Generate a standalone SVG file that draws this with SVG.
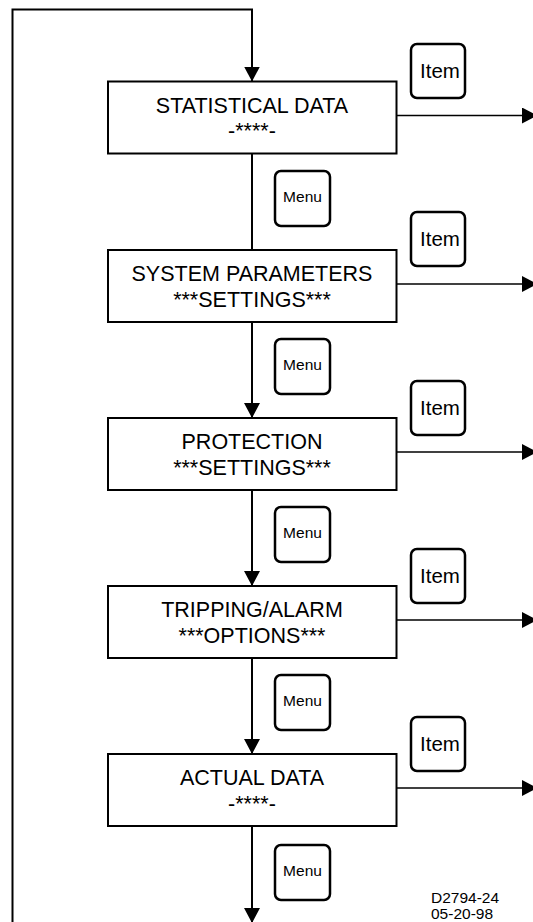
<svg xmlns="http://www.w3.org/2000/svg" width="533" height="922" viewBox="0 0 533 922">
<style>
.box{fill:#fff;stroke:#000;stroke-width:2}
.key{fill:#fff;stroke:#000;stroke-width:2.5}
.t{font-family:"Liberation Sans",Arial,sans-serif;fill:#000;text-anchor:middle}
.main{font-size:21.5px}
.menu{font-size:15.5px}
.item{font-size:20.5px}
.note{font-family:"Liberation Sans",Arial,sans-serif;font-size:15.5px;fill:#000}
.ln{fill:none;stroke:#000;stroke-width:2}
.out{fill:none;stroke:#000;stroke-width:1.5}
</style>
<defs>
<marker id="ah" markerUnits="userSpaceOnUse" markerWidth="16" markerHeight="16" refX="15" refY="8" orient="auto">
<path d="M0,0 L15,8 L0,16 z" fill="#000"/>
</marker>
</defs>
<g id="connectors">
<path class="ln" d="M12.5,922 V9.5 H252 V81.5" marker-end="url(#ah)"/>
<path class="ln" d="M252,153.5 V250"/>
<path class="ln" d="M252,322 V418" marker-end="url(#ah)"/>
<path class="ln" d="M252,490 V586" marker-end="url(#ah)"/>
<path class="ln" d="M252,658 V754" marker-end="url(#ah)"/>
<path class="ln" d="M252,826 V923" marker-end="url(#ah)"/>
<path class="out" d="M396.5,115.5 H537" marker-end="url(#ah)"/>
<path class="out" d="M396.5,284 H537" marker-end="url(#ah)"/>
<path class="out" d="M396.5,452 H537" marker-end="url(#ah)"/>
<path class="out" d="M396.5,620 H537" marker-end="url(#ah)"/>
<path class="out" d="M396.5,788 H537" marker-end="url(#ah)"/>
</g>
<g id="node-statistical">
<rect class="box" x="108" y="81.5" width="288.5" height="72"/>
<text class="t main" x="252" y="112.5">STATISTICAL DATA</text>
<text class="t main" x="252" y="138">-****-</text>
</g>
<g id="node-system">
<rect class="box" x="108" y="250" width="288.5" height="72"/>
<text class="t main" x="252" y="281">SYSTEM PARAMETERS</text>
<text class="t main" x="252" y="306.5">***SETTINGS***</text>
</g>
<g id="node-protection">
<rect class="box" x="108" y="418" width="288.5" height="72"/>
<text class="t main" x="252" y="449">PROTECTION</text>
<text class="t main" x="252" y="474.5">***SETTINGS***</text>
</g>
<g id="node-tripping">
<rect class="box" x="108" y="586" width="288.5" height="72"/>
<text class="t main" x="252" y="617">TRIPPING/ALARM</text>
<text class="t main" x="252" y="642.5">***OPTIONS***</text>
</g>
<g id="node-actual">
<rect class="box" x="108" y="754" width="288.5" height="72"/>
<text class="t main" x="252" y="785">ACTUAL DATA</text>
<text class="t main" x="252" y="810.5">-****-</text>
</g>
<g id="key-item-1"><rect class="key" x="411" y="44" width="54" height="54" rx="6"/><text class="t item" x="440" y="78">Item</text></g>
<g id="key-item-2"><rect class="key" x="411" y="212" width="54" height="54" rx="6"/><text class="t item" x="440" y="246">Item</text></g>
<g id="key-item-3"><rect class="key" x="411" y="381" width="54" height="54" rx="6"/><text class="t item" x="440" y="415">Item</text></g>
<g id="key-item-4"><rect class="key" x="411" y="549" width="54" height="54" rx="6"/><text class="t item" x="440" y="583">Item</text></g>
<g id="key-item-5"><rect class="key" x="411" y="717" width="54" height="54" rx="6"/><text class="t item" x="440" y="751">Item</text></g>
<g id="key-menu-1"><rect class="key" x="275" y="171" width="55" height="55" rx="6"/><text class="t menu" x="302.5" y="202">Menu</text></g>
<g id="key-menu-2"><rect class="key" x="275" y="339" width="55" height="55" rx="6"/><text class="t menu" x="302.5" y="370">Menu</text></g>
<g id="key-menu-3"><rect class="key" x="275" y="507" width="55" height="55" rx="6"/><text class="t menu" x="302.5" y="538">Menu</text></g>
<g id="key-menu-4"><rect class="key" x="275" y="675" width="55" height="55" rx="6"/><text class="t menu" x="302.5" y="706">Menu</text></g>
<g id="key-menu-5"><rect class="key" x="275" y="845" width="55" height="55" rx="6"/><text class="t menu" x="302.5" y="876">Menu</text></g>
<g id="label-drawing-no">
<text class="note" x="431" y="903">D2794-24</text>
<text class="note" x="431" y="919">05-20-98</text>
</g>
</svg>
